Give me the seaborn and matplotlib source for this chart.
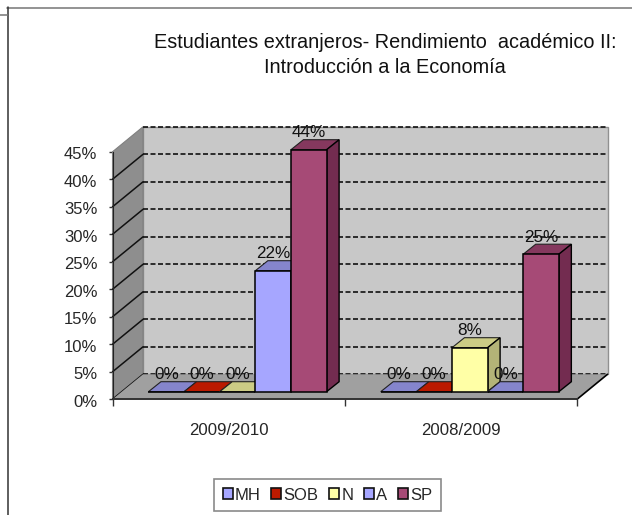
import matplotlib
matplotlib.use('Agg')
import pandas as pd
import seaborn as sns
import matplotlib.pyplot as plt
from matplotlib.lines import Line2D
from matplotlib.patches import Patch, Polygon
from matplotlib.transforms import ScaledTranslation

years = ['2009/2010', '2008/2009']
grades = ['MH', 'SOB', 'N', 'A', 'SP']
mh = [0, 0]
sob = [0, 0]
n = [0, 8]
a = [22, 0]
sp = [44, 25]
y_ticks = [0, 5, 10, 15, 20, 25, 30, 35, 40, 45]

front_colors = ['#A6A6FF', '#BB1A00', '#FFFFA6', '#A6A6FF', '#A64A76']
top_colors = ['#8585CC', '#BB1A00', '#CCCC85', '#8585CC', '#85385E']
side_colors = ['#6C6CA6', '#7A1100', '#B3B377', '#6C6CA6', '#732C50']

W, H = 632, 515


def px_axes(fig, left, top, right, bottom):
    return fig.add_axes([left / W, 1 - bottom / H, (right - left) / W, (bottom - top) / H])


df = pd.DataFrame({
    'year': years * len(grades),
    'grade': [g for g in grades for _ in years],
    'value': mh + sob + n + a + sp,
})

sns.set_style('white')
plt.rcParams['font.family'] = ['Liberation Sans', 'DejaVu Sans']

fig = plt.figure(figsize=(W / 100, H / 100), dpi=100)

# front plane of the box: ticks and walls hang off this one
ax = px_axes(fig, 112.5, 151.8, 577, 399.3)
ax.set_xlim(-0.5, 1.5)
ax.set_ylim(0, 45)
ax.patch.set_alpha(0)

wall_dx = 30.5 / 232.2
wall_dy = 25 / 5.5
x0, x1 = -0.5, 1.5
ax.add_patch(Polygon([(x0 + wall_dx, wall_dy), (x1 + wall_dx, wall_dy), (x1 + wall_dx, 45 + wall_dy), (x0 + wall_dx, 45 + wall_dy)],
                     fc='#C8C8C8', ec='#909090', lw=1, clip_on=False, zorder=1))
ax.add_patch(Polygon([(x0, 0), (x0 + wall_dx, wall_dy), (x0 + wall_dx, 45 + wall_dy), (x0, 45)],
                     fc='#8E8E8E', ec='#808080', lw=0.8, clip_on=False, zorder=1))
ax.add_patch(Polygon([(x0, 0), (x1, 0), (x1 + wall_dx, wall_dy), (x0 + wall_dx, wall_dy)],
                     fc='#A0A0A0', ec='none', clip_on=False, zorder=1.5))
ax.plot([x1, x1 + wall_dx], [0, wall_dy], color='black', lw=1.2, clip_on=False, zorder=1.6)

for t in y_ticks:
    ax.plot([x0 + wall_dx, x1 + wall_dx], [t + wall_dy, t + wall_dy], color='#111111', lw=1.2,
            ls=(0, (3, 1.5)), clip_on=False, zorder=1.2)
    if t < 45:
        ax.plot([x0, x0 + wall_dx], [t, t + wall_dy], color='#111111', lw=1.1, clip_on=False, zorder=1.2)

ax.set_yticks(y_ticks)
ax.set_yticklabels([f'{t}%' for t in y_ticks], fontsize=12)
ax.set_xticks([0, 1])
ax.set_xticklabels(years, fontsize=12.1)
ax.set_xticks([-0.5, 0.5, 1.5], minor=True)
ax.tick_params(axis='x', which='major', length=0, pad=17)
ax.tick_params(axis='x', which='minor', length=5, width=1, color='#333333', bottom=True)
ax.tick_params(axis='y', length=3, width=1, color='#333333', left=True, pad=8)
# y labels sit slightly under their ticks in the original
shift = ScaledTranslation(0, -1.5 / 100, fig.dpi_scale_trans)
for lab in ax.get_yticklabels():
    lab.set_transform(lab.get_transform() + shift)
for side in ['top', 'right']:
    ax.spines[side].set_visible(False)
ax.spines['left'].set_color('#222222')
ax.spines['bottom'].set_color('#333333')
ax.spines['bottom'].set_linewidth(1.4)

# bars sit a bit further back than the front plane
bar_ax = px_axes(fig, 121.4, 144.2, 585.9, 391.7)
sns.barplot(data=df, x='year', y='value', hue='grade', order=years, hue_order=grades,
            palette=front_colors, width=0.767, gap=0, saturation=1, edgecolor='black',
            linewidth=1.1, legend=False, ax=bar_ax)
bar_ax.set_xlim(-0.5, 1.5)
bar_ax.set_ylim(0, 45)
bar_ax.axis('off')

bar_dx = 12.5 / 232.2
bar_dy = 10 / 5.5
label_off = 17 / 5.5
bars = []
for g, container in enumerate(bar_ax.containers):
    for rect in container:
        bars.append((rect.get_x(), g, rect))
bars.sort(key=lambda b: b[0])

for i, (left, g, rect) in enumerate(bars):
    w = rect.get_width()
    h = rect.get_height()
    right = left + w
    rect.set_zorder(3 * i + 4)
    rect.set_clip_on(False)
    bar_ax.add_patch(Polygon([(left, h), (right, h), (right + bar_dx, h + bar_dy), (left + bar_dx, h + bar_dy)],
                             fc=top_colors[g], ec='#222222', lw=0.8, clip_on=False, zorder=3 * i + 2))
    if h > 0:
        bar_ax.add_patch(Polygon([(right, 0), (right + bar_dx, bar_dy), (right + bar_dx, h + bar_dy), (right, h)],
                                 fc=side_colors[g], ec='black', lw=1, clip_on=False, zorder=3 * i + 3))
    bar_ax.text(left + w / 2, h + label_off, f'{h:.0f}%', ha='center', va='center', fontsize=12.3,
                color='#111111', zorder=200, clip_on=False)

fig.text(385 / W, 1 - 55 / H, 'Estudiantes extranjeros- Rendimiento  académico II:\nIntroducción a la Economía',
         ha='center', va='center', fontsize=14.35, linespacing=1.42, color='#111111')

handles = [Patch(fc=c, ec='#111111', lw=1.2) for c in front_colors]
leg = fig.legend(handles, grades, ncol=5, loc='center', bbox_to_anchor=(327.5 / W, 1 - 495 / H),
                 frameon=True, fancybox=False, edgecolor='#8A8A8A', framealpha=1, fontsize=12,
                 handlelength=0.6, handleheight=0.6, handletextpad=0.15, columnspacing=0.62,
                 borderpad=0.52, borderaxespad=0)
leg.get_frame().set_linewidth(1.2)

# outer chart border, cut off by the screenshot
px = fig.transFigure
fig.add_artist(Line2D([7 / W, 1], [1 - 7.5 / H, 1 - 7.5 / H], color='#808080', lw=1.2, transform=px))
fig.add_artist(Line2D([7.5 / W, 7.5 / W], [1 - 7 / H, 0], color='#333333', lw=1.1, transform=px))
fig.add_artist(Line2D([0, 7 / W], [1 - 15 / H, 1 - 15 / H], color='#808080', lw=1.2, transform=px))

fig.savefig('out.png', dpi=100)
